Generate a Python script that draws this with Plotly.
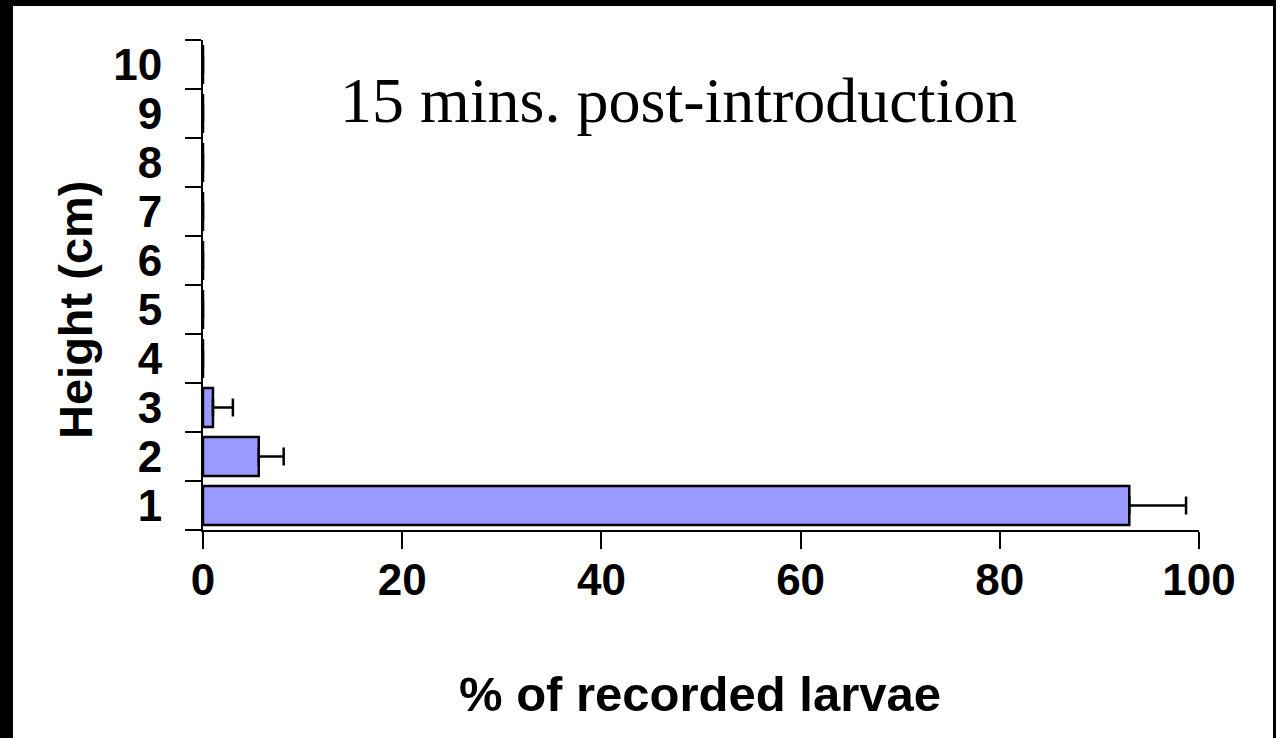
import plotly.graph_objects as go

# Data
heights = [1, 2, 3, 4, 5, 6, 7, 8, 9, 10]
height_labels = ["1", "2", "3", "4", "5", "6", "7", "8", "9", "10"]
pct_larvae = [93.0, 5.6, 1.0, 0, 0, 0, 0, 0, 0, 0]
pct_error = [5.7, 2.5, 2.0, 0, 0, 0, 0, 0, 0, 0]
x_ticks = [0, 20, 40, 60, 80, 100]

W, H = 1276, 738
ML, MR, MT, MB = 203, 77, 40, 208
PW, PH = W - ML - MR, H - MT - MB

def px_x(p):
    return (p - ML) / PW

def px_y(p):
    return (H - MB - p) / PH

SANS = "Liberation Sans, Arial, sans-serif"
SERIF = "Liberation Serif, Times New Roman, serif"

fig = go.Figure()
fig.add_trace(go.Bar(
    y=heights, x=pct_larvae, orientation="h", width=0.8,
    marker=dict(color="#9999FF", line=dict(color="black", width=2.5)),
    error_x=dict(type="data", symmetric=False, array=pct_error,
                 arrayminus=[0] * len(pct_error),
                 color="black", thickness=2.5, width=9),
    showlegend=False,
))

fig.update_layout(
    width=W, height=H,
    margin=dict(l=ML, r=MR, t=MT, b=MB, pad=0),
    paper_bgcolor="white", plot_bgcolor="white",
    font=dict(family=SANS, color="black"),
    xaxis=dict(
        range=[0, 100], tickvals=x_ticks, ticktext=[str(v) for v in x_ticks],
        ticks="outside", ticklen=17, tickwidth=2, tickcolor="black",
        showline=True, linewidth=2, linecolor="black",
        showgrid=False, zeroline=False,
        tickfont=dict(family=SANS, size=44, weight="bold"),
        ticklabelstandoff=-7,
    ),
    yaxis=dict(
        range=[0.5, 10.5], tickvals=heights, ticktext=height_labels,
        ticks="", showline=True, linewidth=2, linecolor="black",
        showgrid=False, zeroline=False,
        tickfont=dict(family=SANS, size=44, weight="bold"),
        ticklabelstandoff=30,
        minor=dict(tickvals=[h - 0.5 for h in heights] + [10.5],
                   ticks="outside", ticklen=16, tickwidth=2,
                   tickcolor="black", showgrid=False),
    ),
    annotations=[
        dict(text="15 mins. post-introduction", xref="paper", yref="paper",
             x=px_x(678), y=px_y(100), xanchor="center", yanchor="middle",
             showarrow=False, font=dict(family=SERIF, size=64, color="black")),
        dict(text="% of recorded larvae", xref="paper", yref="paper",
             x=px_x(700), y=px_y(694), xanchor="center", yanchor="middle",
             showarrow=False,
             font=dict(family=SANS, size=49, weight="bold", color="black")),
        dict(text="Height (cm)", xref="paper", yref="paper", textangle=-90,
             x=px_x(75), y=px_y(310), xanchor="center", yanchor="middle",
             showarrow=False,
             font=dict(family=SANS, size=47, weight="bold", color="black")),
    ],
    shapes=[
        dict(type="rect", xref="paper", yref="paper", layer="above",
             x0=px_x(0), x1=px_x(13), y0=px_y(0), y1=px_y(H),
             fillcolor="black", line=dict(width=0)),
        dict(type="rect", xref="paper", yref="paper", layer="above",
             x0=px_x(0), x1=px_x(W), y0=px_y(0), y1=px_y(6),
             fillcolor="black", line=dict(width=0)),
        dict(type="rect", xref="paper", yref="paper", layer="above",
             x0=px_x(1273), x1=px_x(W), y0=px_y(0), y1=px_y(H),
             fillcolor="black", line=dict(width=0)),
    ],
)

fig.write_html("out.html")
